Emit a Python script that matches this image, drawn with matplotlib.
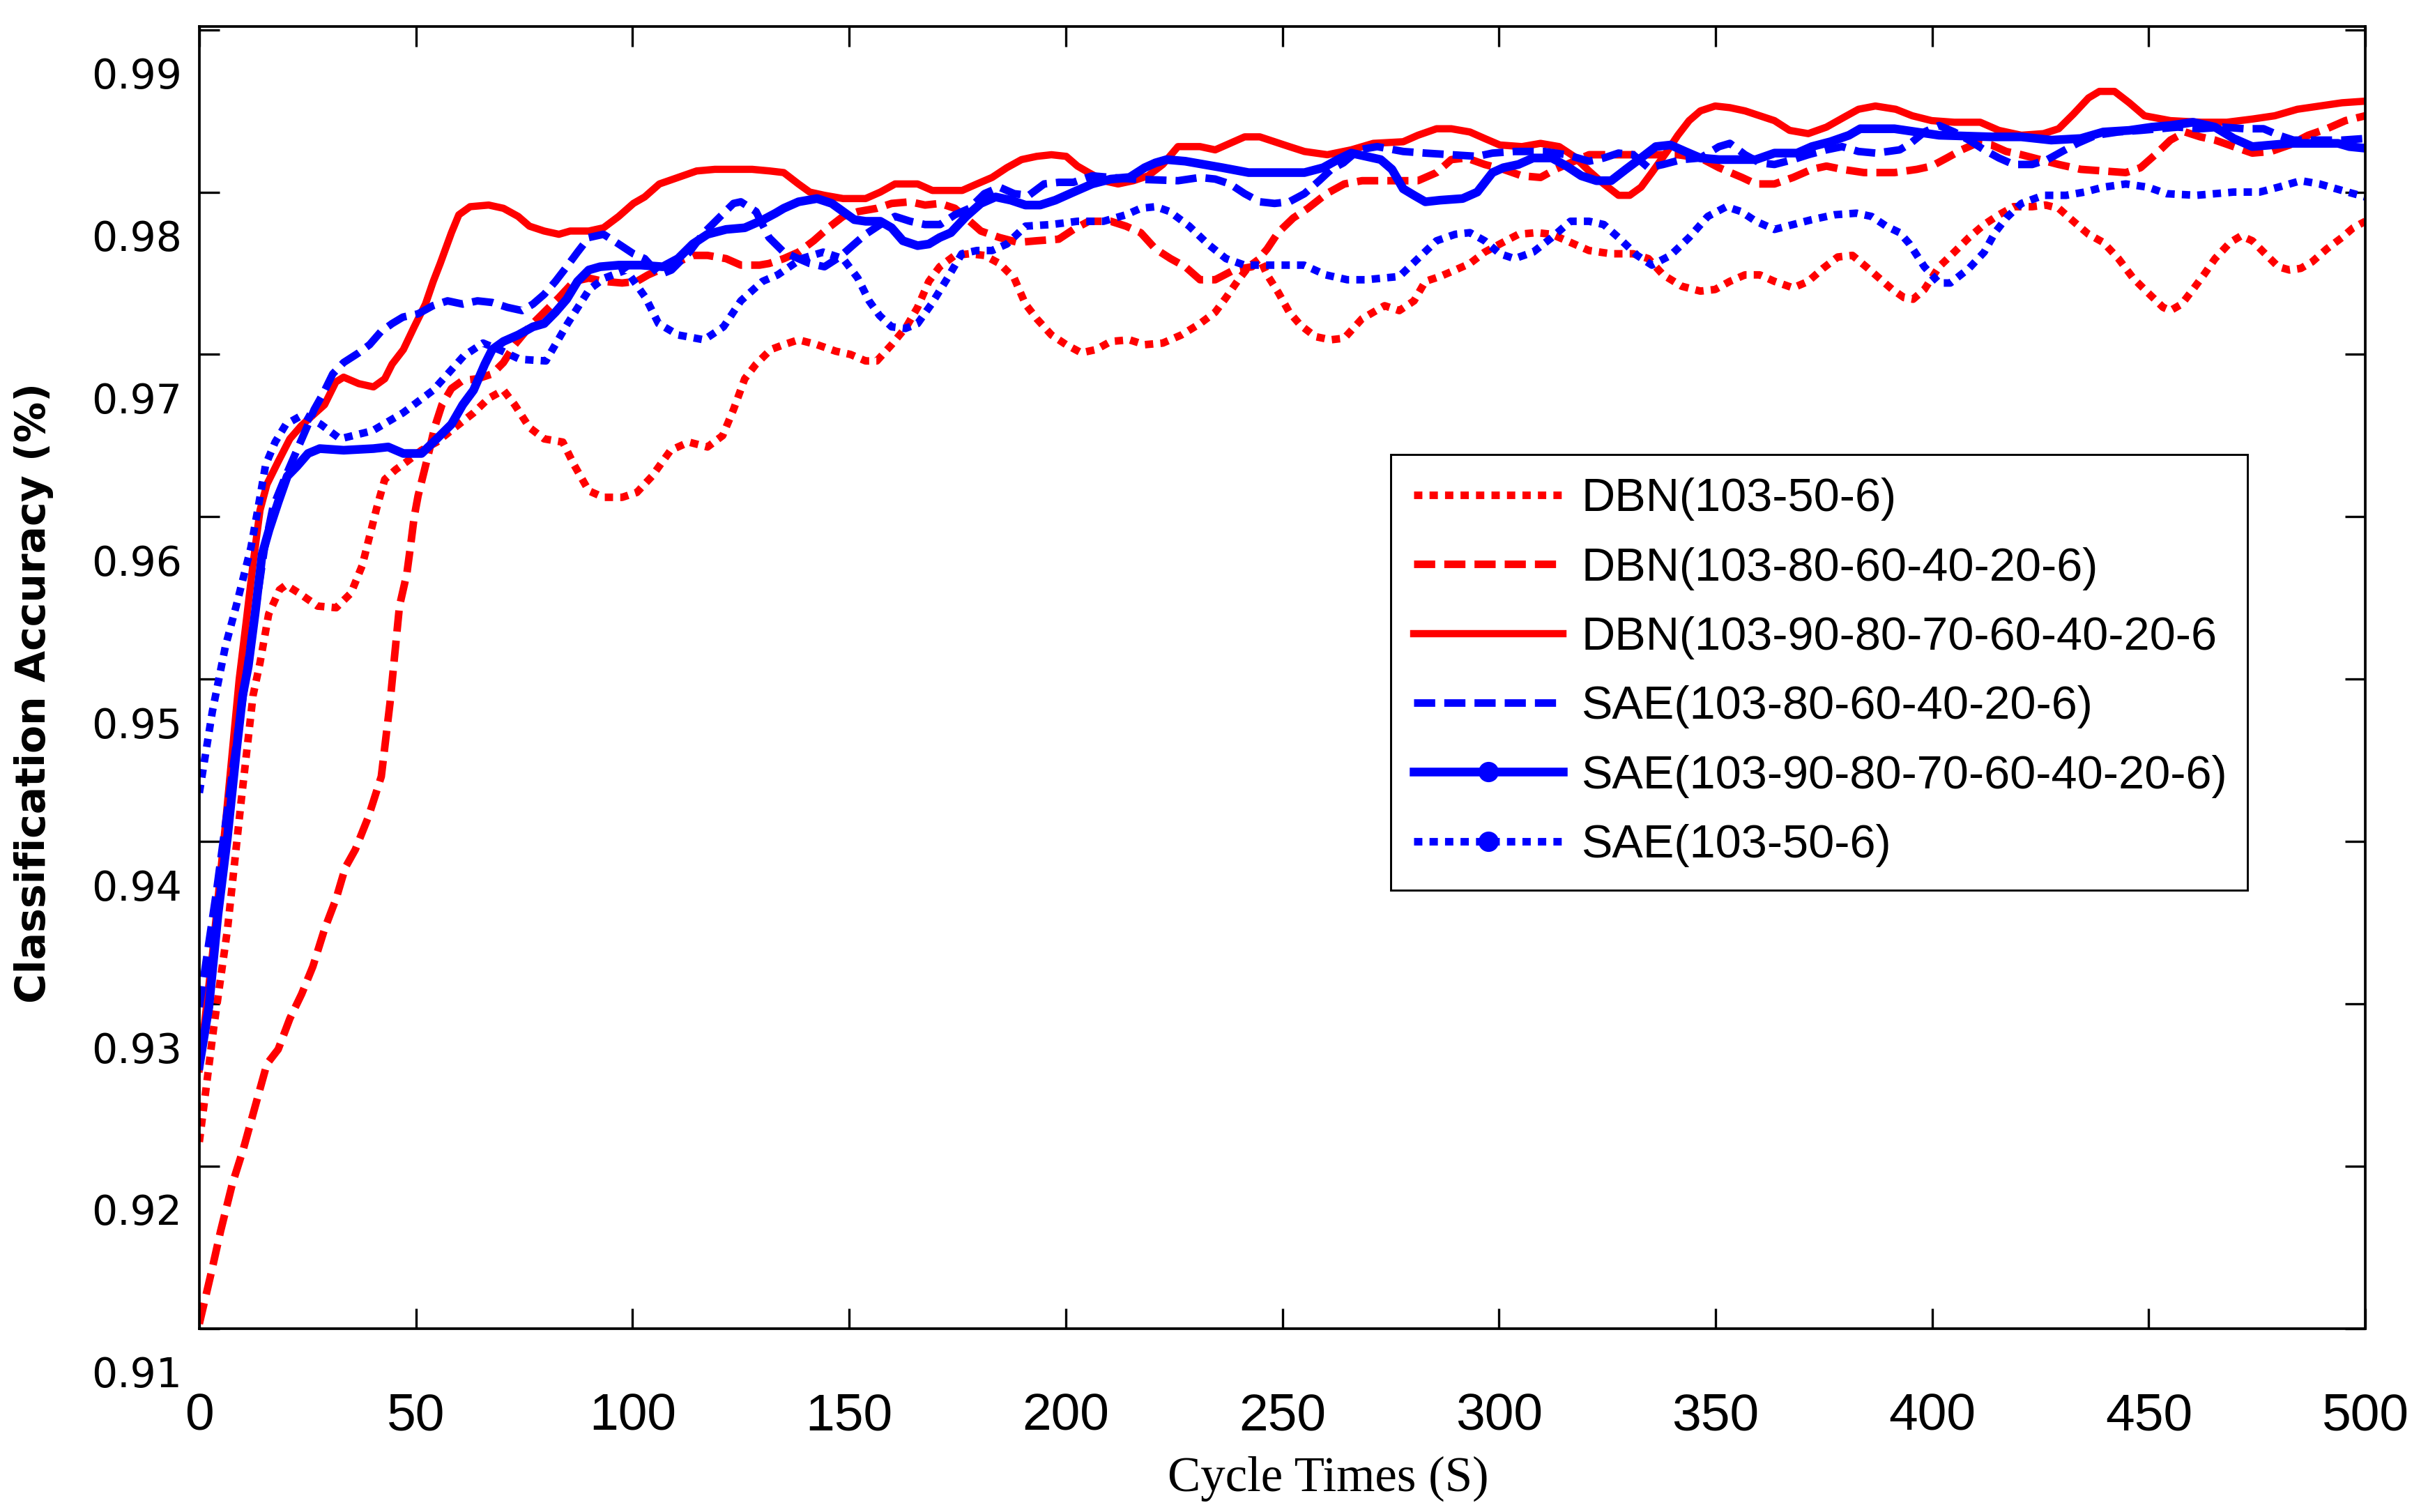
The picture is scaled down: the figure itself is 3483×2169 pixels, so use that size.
import matplotlib
matplotlib.use("Agg")
import matplotlib.pyplot as plt
import matplotlib.transforms as mtransforms
from matplotlib.lines import Line2D
from matplotlib import font_manager

# curves: (cycle time, accuracy)
dbn_50 = [(0, 0.9215), (3.3, 0.9285), (6.5, 0.9346), (9.7, 0.9426), (12.4, 0.949), (14, 0.951), (16, 0.954),
          (18.5, 0.9555), (20, 0.9558), (23, 0.9553), (27.3, 0.9545), (31.6, 0.9544), (35, 0.9553), (37.6, 0.957),
          (39.3, 0.9588), (41, 0.9606), (42.8, 0.9623), (45.3, 0.9629), (47.9, 0.9634), (51.3, 0.9641),
          (54.8, 0.9646), (59, 0.9655), (63.3, 0.9664), (66.8, 0.9673), (70.2, 0.9678), (72.8, 0.9669),
          (76.2, 0.9655), (79.6, 0.9648), (83.9, 0.9646), (86.5, 0.9632), (89.9, 0.9616), (93.3, 0.9612),
          (97.6, 0.9612), (101, 0.9615), (104.5, 0.9625), (108.8, 0.9641), (113, 0.9646), (117.3, 0.9643),
          (120.8, 0.965), (123.3, 0.9666), (125.9, 0.9685), (128.5, 0.9694), (131.9, 0.9703), (134.9, 0.9706),
          (138.3, 0.9709), (142.6, 0.9706), (146.9, 0.9702), (150.3, 0.97), (153.8, 0.9696), (156.4, 0.9696),
          (159.8, 0.9706), (163.2, 0.9717), (165.8, 0.9729), (168.4, 0.9745), (170.9, 0.9754), (174.4, 0.9761),
          (177.8, 0.9762), (181.2, 0.9761), (184.7, 0.9756), (188.1, 0.9747), (190.7, 0.9731), (193.3, 0.9722),
          (196.7, 0.9712), (200.1, 0.9706), (203.6, 0.9701), (207, 0.9703), (210.4, 0.9708), (214.7, 0.9709),
          (218.2, 0.9706), (222.4, 0.9707), (226.7, 0.9712), (231, 0.9719), (234.5, 0.9726), (237, 0.9735),
          (239.6, 0.9745), (242.2, 0.9754), (244.8, 0.9759), (246.5, 0.9749), (249.1, 0.9738), (251.6, 0.9726),
          (254.2, 0.9718), (257.6, 0.9711), (261.1, 0.9709), (264.3, 0.971), (268.4, 0.9722), (273.6, 0.973),
          (277, 0.9727), (280.4, 0.9733), (283, 0.9745), (286.4, 0.9748), (289.9, 0.9752), (293.3, 0.9756),
          (296.7, 0.9763), (300.2, 0.9768), (304.5, 0.9774), (308.7, 0.9775), (312.2, 0.9774), (316.5, 0.9769),
          (320.8, 0.9764), (325.9, 0.9762), (331, 0.9762), (334.5, 0.9759), (337.9, 0.9749), (342.2, 0.9742),
          (346.5, 0.9739), (349.9, 0.974), (353.3, 0.9745), (356.8, 0.9749), (360.2, 0.9749), (363.6, 0.9745),
          (367.9, 0.9741), (371.4, 0.9745), (374.8, 0.9753), (378.2, 0.976), (381.6, 0.9761), (385.2, 0.9753),
          (388.2, 0.9746), (390.8, 0.974), (393.5, 0.9735), (395.6, 0.9734), (398.2, 0.974), (401.6, 0.9754),
          (405.1, 0.9763), (408.5, 0.9772), (412, 0.978), (415.4, 0.9786), (418.8, 0.9791), (423.1, 0.9791),
          (426.2, 0.9792), (429.2, 0.979), (432.6, 0.9782), (436.1, 0.9774), (439.5, 0.9769), (443, 0.9759),
          (446.4, 0.9747), (449.8, 0.9738), (453.3, 0.9729), (455, 0.9727), (457.6, 0.9731), (460.2, 0.974),
          (462.7, 0.9749), (465.3, 0.9759), (468.8, 0.9769), (471.3, 0.9773), (473.9, 0.977), (476.5, 0.9763),
          (479.9, 0.9754), (482.5, 0.9752), (485.1, 0.9753), (487.7, 0.9757), (491.1, 0.9765), (494.6, 0.9772),
          (497.2, 0.9778), (500, 0.9782)]

dbn_80 = [(0, 0.9103), (2.8, 0.9135), (4.9, 0.916), (7.6, 0.9189), (10.2, 0.9211), (12.9, 0.9237), (15.6, 0.9263),
          (18.2, 0.9272), (20.9, 0.9291), (23.6, 0.9306), (26.2, 0.9323), (28.9, 0.9346), (31.6, 0.9365),
          (33.7, 0.9384), (36, 0.9395), (39, 0.9415), (42, 0.944), (44, 0.9485), (46.2, 0.9545), (47.9, 0.9565),
          (48.8, 0.9583), (49.6, 0.96), (50.5, 0.9613), (51.8, 0.9627), (53.1, 0.9641), (54.3, 0.9655),
          (56, 0.9669), (58.2, 0.9679), (60.8, 0.9684), (64.2, 0.9685), (67.6, 0.9688), (70.2, 0.9695),
          (72.8, 0.9706), (76.2, 0.9717), (79.6, 0.9726), (83, 0.9735), (86.5, 0.9745), (89.9, 0.9747),
          (93.3, 0.9745), (97.6, 0.9744), (101, 0.9745), (103.6, 0.9749), (107, 0.9753), (110.5, 0.9757),
          (113.9, 0.9761), (117.3, 0.9761), (121.6, 0.9759), (125, 0.9755), (129.3, 0.9755), (131.5, 0.9756),
          (134.9, 0.9759), (138.3, 0.9763), (141.8, 0.977), (145.2, 0.9778), (148.6, 0.9785), (152.1, 0.9788),
          (156.4, 0.979), (159.8, 0.9793), (164.1, 0.9794), (167.5, 0.9792), (171, 0.9793), (174.4, 0.979),
          (177, 0.9784), (180.4, 0.9776), (184.7, 0.9772), (189, 0.9769), (193.3, 0.977), (198.4, 0.9771),
          (201.8, 0.9777), (205.3, 0.9782), (210.4, 0.9782), (213.9, 0.9779), (217.3, 0.9775), (220.7, 0.9765),
          (224.2, 0.9759), (227.6, 0.9754), (231, 0.9746), (234.5, 0.9746), (238.8, 0.9752), (243, 0.9754),
          (246.5, 0.9765), (249, 0.9775), (252.5, 0.9784), (255.9, 0.979), (260.2, 0.9799), (264.3, 0.9805),
          (268.4, 0.9807), (274.4, 0.9807), (281.3, 0.9807), (285.6, 0.9812), (289, 0.982), (292.5, 0.9821),
          (296.7, 0.9817), (301, 0.9814), (305.3, 0.981), (309.6, 0.9809), (313, 0.9814), (316.5, 0.9818),
          (320.8, 0.9823), (331, 0.9823), (341.3, 0.9823), (346.5, 0.9821), (350.8, 0.9815), (356.1, 0.9809),
          (359.3, 0.9805), (363.6, 0.9805), (367.9, 0.9809), (372.2, 0.9814), (375.6, 0.9816), (379.2, 0.9814),
          (384.3, 0.9812), (391.3, 0.9812), (396.5, 0.9814), (399.9, 0.9816), (403.4, 0.9821), (406.8, 0.9826),
          (410.2, 0.983), (413.7, 0.9829), (417.1, 0.9825), (420.6, 0.9823), (424.9, 0.982), (429.2, 0.9817),
          (434.3, 0.9814), (439.5, 0.9813), (444.7, 0.9812), (448.1, 0.9815), (451.5, 0.9823), (455, 0.9832),
          (458.4, 0.9837), (461.9, 0.9834), (465.3, 0.9832), (469.6, 0.9828), (473.9, 0.9824), (478.2, 0.9825),
          (482.5, 0.9829), (486.8, 0.9835), (491.1, 0.9839), (495.4, 0.9844), (500, 0.9847)]

dbn_90 = [(0, 0.926), (3, 0.933), (6, 0.941), (9.2, 0.95), (10.8, 0.9535), (12.4, 0.9571), (14, 0.9604),
          (15.6, 0.962), (18.2, 0.9634), (20.9, 0.9648), (23.5, 0.9656), (26.8, 0.9664), (28.9, 0.9669),
          (31.5, 0.9683), (33.3, 0.9686), (36.8, 0.9682), (40.2, 0.968), (42.8, 0.9685), (44.5, 0.9694),
          (47.1, 0.9703), (49.6, 0.9717), (52.2, 0.9731), (54, 0.9745), (55.6, 0.9756), (58.2, 0.9775),
          (59.9, 0.9786), (62.5, 0.9791), (66.8, 0.9792), (70.2, 0.979), (73.6, 0.9785), (76.2, 0.9779),
          (79.6, 0.9776), (83, 0.9774), (85.6, 0.9776), (89.9, 0.9776), (93.3, 0.9778), (96.8, 0.9785),
          (100.2, 0.9793), (102.8, 0.9797), (106.2, 0.9805), (110.5, 0.9809), (114.8, 0.9813), (119, 0.9814),
          (127.6, 0.9814), (131.7, 0.9813), (134.9, 0.9812), (138.3, 0.9805), (140.9, 0.98), (144.3, 0.9798),
          (148.6, 0.9796), (153.8, 0.9796), (157.2, 0.98), (160.6, 0.9805), (165.8, 0.9805), (169.2, 0.9801),
          (176.1, 0.9801), (179.5, 0.9805), (183, 0.9809), (186.4, 0.9815), (189.8, 0.982), (193.3, 0.9822),
          (196.7, 0.9823), (200.1, 0.9822), (202.7, 0.9816), (205.3, 0.9812), (208.7, 0.9807), (212.1, 0.9805),
          (215.6, 0.9807), (219, 0.981), (222.4, 0.9817), (225.9, 0.9828), (231, 0.9828), (234.5, 0.9826),
          (237.9, 0.983), (241.3, 0.9834), (244.8, 0.9834), (248.2, 0.9831), (251.6, 0.9828), (255.1, 0.9825),
          (260.4, 0.9823), (265.9, 0.9826), (271, 0.983), (277.9, 0.9831), (281.3, 0.9835), (285.6, 0.9839),
          (289, 0.9839), (293.3, 0.9837), (296.7, 0.9833), (300.2, 0.9829), (305.3, 0.9828), (309.6, 0.983),
          (313.9, 0.9828), (317.3, 0.9822), (320.8, 0.9813), (324.2, 0.9805), (327.6, 0.9798), (330.2, 0.9798),
          (332.8, 0.9803), (335.3, 0.9812), (338.8, 0.9825), (341.3, 0.9835), (343.9, 0.9844), (346.5, 0.985),
          (349.9, 0.9853), (353.3, 0.9852), (356.8, 0.985), (360.2, 0.9847), (363.6, 0.9844), (367.1, 0.9838),
          (371.4, 0.9836), (375.6, 0.984), (379.6, 0.9846), (383, 0.9851), (386.9, 0.9853), (391.6, 0.9851),
          (395.4, 0.9847), (399.9, 0.9844), (405.1, 0.9843), (411.1, 0.9843), (415.4, 0.9838), (420.6, 0.9835),
          (425.7, 0.9836), (429.2, 0.9839), (432.6, 0.9848), (436.1, 0.9858), (438.6, 0.9862), (442.1, 0.9862),
          (445.5, 0.9855), (449, 0.9847), (455, 0.9844), (462, 0.9843), (468, 0.9843), (474, 0.9845),
          (479.1, 0.9847), (484.3, 0.9851), (489.4, 0.9853), (494.6, 0.9855), (500, 0.9856)]

sae_80 = [(0, 0.9298), (4, 0.937), (8, 0.945), (12, 0.9525), (15, 0.958), (17, 0.9606), (19.6, 0.9623),
          (22.2, 0.9639), (24.8, 0.9655), (26.5, 0.9666), (28.6, 0.9676), (30.8, 0.9688), (33.3, 0.9695),
          (36.8, 0.9701), (39.3, 0.9706), (41.9, 0.9714), (44.5, 0.9719), (47, 0.9723), (50.5, 0.9725),
          (53.9, 0.973), (57.3, 0.9733), (60.8, 0.9731), (64.2, 0.9733), (67.6, 0.9732), (71.1, 0.9729),
          (74.5, 0.9727), (77, 0.9731), (79.6, 0.9737), (82.2, 0.9745), (84.8, 0.9754), (87.3, 0.9763),
          (89.9, 0.9772), (93.3, 0.9774), (96.8, 0.9768), (100.2, 0.9762), (102.8, 0.9759), (106.2, 0.9749),
          (109, 0.9752), (113.1, 0.9763), (116.5, 0.9775), (119.9, 0.9784), (123.3, 0.9793), (125, 0.9794),
          (128.5, 0.9788), (131.5, 0.9772), (134.9, 0.9763), (138.3, 0.9759), (140.9, 0.9756), (144.3, 0.9754),
          (147.8, 0.976), (151.2, 0.9768), (153.8, 0.9774), (157.2, 0.978), (160.6, 0.9785), (164.1, 0.9782),
          (167.5, 0.978), (171, 0.978), (174.4, 0.9786), (177.8, 0.979), (181.2, 0.9799), (184.7, 0.9803),
          (188.1, 0.9799), (191.5, 0.9798), (195, 0.9805), (198.4, 0.9806), (201.8, 0.9806), (206.1, 0.981),
          (210.4, 0.9809), (215.6, 0.9808), (225.9, 0.9807), (231, 0.9809), (234.5, 0.9808), (237.9, 0.9805),
          (241.3, 0.9799), (244.8, 0.9794), (248.2, 0.9793), (251.6, 0.9794), (255.1, 0.9799), (258.5, 0.9807),
          (261.3, 0.9814), (264.1, 0.9818), (267.6, 0.9826), (271.9, 0.9828), (277.9, 0.9825), (283, 0.9824),
          (289, 0.9823), (295, 0.9822), (298.5, 0.9824), (303.6, 0.9825), (310.5, 0.9825), (315.6, 0.9823),
          (320.8, 0.9819), (324.2, 0.9821), (327.6, 0.9824), (331, 0.9823), (334.5, 0.9815), (337.9, 0.9817),
          (342.2, 0.982), (346.5, 0.9821), (350.8, 0.9828), (353.3, 0.983), (356.8, 0.9823), (360.2, 0.9818),
          (363.6, 0.9817), (367.9, 0.982), (371.4, 0.9823), (375.6, 0.9826), (379.2, 0.9828), (383, 0.9825),
          (387, 0.9824), (392.5, 0.9826), (395, 0.983), (398.2, 0.9837), (401.6, 0.9841), (405.1, 0.9837),
          (408.5, 0.9832), (412, 0.9826), (415.4, 0.9821), (418.8, 0.9817), (423.1, 0.9817), (426.6, 0.982),
          (430, 0.9825), (433.5, 0.983), (437.8, 0.9835), (442.9, 0.9837), (448.1, 0.9838), (452.4, 0.9839),
          (456.7, 0.984), (461.9, 0.9839), (467.1, 0.984), (472.2, 0.9839), (476.5, 0.9839), (480, 0.9835),
          (483.4, 0.9832), (488.6, 0.9832), (494.6, 0.9832), (500, 0.9833)]

sae_90 = [(0, 0.9262), (2.2, 0.9298), (4.3, 0.9355), (6.5, 0.9403), (8.6, 0.9457), (10, 0.949), (11.3, 0.9508),
          (12.9, 0.9541), (14.5, 0.9577), (16.1, 0.9592), (18.2, 0.9609), (20.3, 0.9625), (22.5, 0.9631),
          (25.1, 0.9639), (27.8, 0.9642), (33.3, 0.9641), (40.2, 0.9642), (43.6, 0.9643), (47.1, 0.9639),
          (51.3, 0.9639), (54.8, 0.9648), (58.2, 0.9657), (60.8, 0.9669), (63.3, 0.9678), (65.9, 0.9694),
          (67.6, 0.9703), (70.2, 0.9708), (73.6, 0.9712), (77, 0.9717), (79.6, 0.9719), (82.2, 0.9726),
          (84.8, 0.9734), (87.3, 0.9745), (89.9, 0.9752), (92.5, 0.9754), (96.8, 0.9755), (101.9, 0.9755),
          (107, 0.9754), (110.5, 0.9759), (113.9, 0.9768), (117.3, 0.9774), (121.6, 0.9777), (125.9, 0.9778),
          (130.2, 0.9783), (133, 0.9787), (134.9, 0.979), (138.3, 0.9794), (142.6, 0.9796), (146, 0.9793),
          (148.6, 0.9788), (151.2, 0.9783), (153.8, 0.9782), (157.2, 0.9782), (159.8, 0.9778), (162.4, 0.977),
          (165.8, 0.9767), (168.4, 0.9768), (170.9, 0.9772), (173.5, 0.9775), (177, 0.9785), (180.4, 0.9793),
          (183.8, 0.9797), (187.3, 0.9795), (190.7, 0.9792), (194.1, 0.9792), (197.6, 0.9795), (201.8, 0.98),
          (206.1, 0.9805), (210.4, 0.9808), (214.7, 0.9809), (218.2, 0.9815), (220.7, 0.9818), (223.3, 0.982),
          (227.6, 0.9819), (231.9, 0.9817), (236.2, 0.9815), (242.2, 0.9812), (255.1, 0.9812), (259.4, 0.9815),
          (262.8, 0.982), (265.9, 0.9824), (269.3, 0.9822), (272.7, 0.982), (275.3, 0.9814), (277.9, 0.9802),
          (280.4, 0.9798), (283, 0.9794), (286.4, 0.9795), (291.6, 0.9796), (295, 0.98), (298.5, 0.9812),
          (301, 0.9815), (304.5, 0.9817), (307.9, 0.9821), (312.2, 0.9821), (315.6, 0.9816), (319, 0.981),
          (322.5, 0.9807), (325.9, 0.9807), (329.3, 0.9814), (332.8, 0.9821), (336.2, 0.9828), (339.6, 0.9829),
          (343, 0.9825), (346.5, 0.9821), (350.8, 0.982), (359.3, 0.982), (363.6, 0.9824), (368.8, 0.9824),
          (372.2, 0.9828), (376.5, 0.9831), (380.8, 0.9835), (383.4, 0.9839), (391.3, 0.9839), (396.5, 0.9837),
          (401.6, 0.9835), (413.7, 0.9834), (420.6, 0.9834), (427.5, 0.9832), (434.3, 0.9833), (439.5, 0.9837),
          (445.5, 0.9838), (450.7, 0.984), (455, 0.9841), (460.2, 0.9843), (465.3, 0.984), (469.6, 0.9833),
          (473.9, 0.9828), (482.5, 0.983), (493.7, 0.983), (496.3, 0.9828), (500, 0.9827)]

sae_50 = [(0, 0.943), (3, 0.948), (6, 0.952), (8.5, 0.9545), (10.2, 0.9563), (11.9, 0.9581), (13.6, 0.9606),
          (15.3, 0.9632), (17.5, 0.9646), (20, 0.9657), (24, 0.9663), (28, 0.9657), (32.5, 0.9648), (40, 0.9653),
          (47, 0.9664), (54, 0.9678), (61, 0.9699), (65.5, 0.9707), (70, 0.9702), (74, 0.9697), (80, 0.9696),
          (85, 0.9719), (90, 0.974), (93.5, 0.9747), (98.5, 0.9752), (103, 0.9735), (106, 0.9719),
          (110.5, 0.9712), (116.5, 0.9709), (121, 0.9717), (125, 0.9733), (130, 0.9745), (133.5, 0.9749),
          (139, 0.9759), (144, 0.9763), (148.6, 0.9759), (152, 0.9747), (154.6, 0.9733), (157, 0.9724),
          (159.8, 0.9717), (163, 0.9716), (165.8, 0.9719), (169, 0.9731), (172.7, 0.9747), (176, 0.9762),
          (179.5, 0.9764), (183, 0.9764), (186.4, 0.9768), (190.7, 0.9779), (196.7, 0.978), (202.7, 0.9782),
          (208.7, 0.9782), (213.9, 0.9786), (217.3, 0.979), (220.8, 0.9791), (224, 0.9788), (228.5, 0.9779),
          (232.8, 0.9768), (237, 0.9759), (241.3, 0.9755), (247, 0.9755), (255, 0.9755), (260, 0.9749),
          (265, 0.9746), (269.3, 0.9746), (277, 0.9748), (281.3, 0.9759), (285.6, 0.977), (289.9, 0.9774),
          (293.3, 0.9775), (296.7, 0.977), (300.2, 0.9762), (303.6, 0.9759), (307.9, 0.9763), (312.2, 0.9772),
          (316.5, 0.9782), (320.8, 0.9782), (324.2, 0.978), (327.6, 0.9772), (331.9, 0.9761), (335.3, 0.9755),
          (339.6, 0.9761), (343.9, 0.9772), (348.2, 0.9785), (352.5, 0.9791), (355.9, 0.9788), (359.3, 0.9782),
          (363.6, 0.9777), (367.9, 0.978), (372.2, 0.9783), (377.4, 0.9786), (382.5, 0.9787), (386, 0.9785),
          (389.4, 0.9779), (392.5, 0.9775), (394.8, 0.9768), (398.2, 0.9754), (401.6, 0.9744), (404.2, 0.9744),
          (408.5, 0.9753), (412, 0.9763), (414.5, 0.9775), (417.1, 0.9784), (420.6, 0.9793), (425.7, 0.9798),
          (430.9, 0.9798), (435.2, 0.98), (439.5, 0.9803), (444.7, 0.9805), (449.8, 0.9803), (454.1, 0.9799),
          (461, 0.9798), (469.6, 0.98), (475.6, 0.98), (479.9, 0.9803), (485.1, 0.9807), (489.4, 0.9805),
          (494.6, 0.9801), (500, 0.9797)]

labels = ["DBN(103-50-6)", "DBN(103-80-60-40-20-6)", "DBN(103-90-80-70-60-40-20-6",
          "SAE(103-80-60-40-20-6)", "SAE(103-90-80-70-60-40-20-6)", "SAE(103-50-6)"]
x_ticks = list(range(0, 501, 50))
y_ticks = [0.91, 0.92, 0.93, 0.94, 0.95, 0.96, 0.97, 0.98, 0.99]

dotted = (0, (1.1, 0.95))
dashed = (0, (2.8, 1.2))
styles = [("red", dotted, 2.6, None), ("red", dashed, 2.6, None), ("red", "-", 2.5, None),
          ("blue", dashed, 2.6, None), ("blue", "-", 3.0, "o"), ("blue", dotted, 2.6, "o")]
series = [dbn_50, dbn_80, dbn_90, sae_80, sae_90, sae_50]

names = {f.name for f in font_manager.fontManager.ttflist}
narrow = "Liberation Sans Narrow" if "Liberation Sans Narrow" in names else "Liberation Sans"

fig = plt.figure(figsize=(3483 / 300, 2169 / 300), dpi=300)
ax = fig.add_axes([0.0821, 0.1213, 0.8921, 0.8612])

handles = []
for data, (col, ls, lw, mk), lab in zip(series, styles, labels):
    xs = [p[0] for p in data]
    ys = [p[1] for p in data]
    ax.plot(xs, ys, color=col, linestyle=ls, linewidth=lw)
    handles.append(Line2D([], [], color=col, linestyle=ls, linewidth=lw,
                          marker=mk, markersize=6, label=lab))

ax.set_xlim(0, 500)
ax.set_ylim(0.91, 0.9902)
ax.set_xticks(x_ticks)
ax.set_xticklabels([str(t) for t in x_ticks], fontfamily=narrow, fontsize=18)
ax.set_yticks(y_ticks)
ax.set_yticklabels(["%.2f" % t for t in y_ticks], fontfamily="DejaVu Sans", fontsize=14)
ax.tick_params(direction="in", top=True, right=True, length=7, width=0.8)
ax.tick_params(axis="x", pad=22)
ax.tick_params(axis="y", pad=6)
for s in ax.spines.values():
    s.set_linewidth(0.9)

# y labels sit lower than their ticks in the original
shift = mtransforms.ScaledTranslation(0, -62 / 300, fig.dpi_scale_trans)
for lbl in ax.get_yticklabels():
    lbl.set_transform(lbl.get_transform() + shift)

fig.text(0.014, 0.5417, "Classification Accuracy (%)", rotation=90, fontweight="bold",
         fontsize=14, ha="center", va="center", family="DejaVu Sans")
fig.text(0.547, 0.022, "Cycle Times (S)", family="Liberation Serif", fontsize=17,
         ha="center", va="center")

leg = ax.legend(handles=handles, loc="upper left", bbox_to_anchor=(0.550, 0.3437, 0.3956, 0.3276),
                mode="expand", prop={"family": "Liberation Sans", "size": 16}, handlelength=3.2,
                handletextpad=0.4, labelspacing=0.56, borderpad=0.5, numpoints=1,
                fancybox=False, framealpha=1, edgecolor="black", borderaxespad=0)
leg.get_frame().set_linewidth(0.7)

fig.savefig("out.png", dpi=300)
